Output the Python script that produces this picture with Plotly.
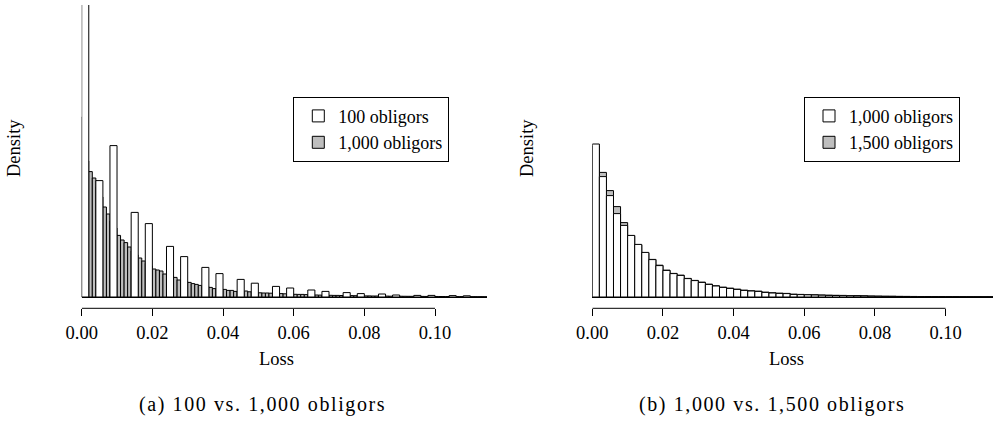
import plotly.graph_objects as go

W, H = 993, 421

# ---------------- data (densities) ----------------
# Panel (a): 1,000 obligors, bin width 0.001, bins start at 0.000
dens_a_1000 = [
    90, 68, 62.7, 59.5, 55, 50, 45, 41.5, 38, 34.5,
    30.8, 28.5, 27.2, 25, 23, 21, 19.5, 18, 16.8, 15.5,
    14, 13.5, 13, 11.5, 11, 10.3, 9.8, 8.5, 8.1, 7.7,
    7.3, 6.7, 6.3, 5.8, 5.5, 5.2, 4.8, 4.2, 4.1, 3.9,
    3.8, 3.3, 3.3, 2.8, 2.8, 2.7, 3.0, 2.6, 2.4, 2.3,
    2.1, 2.0, 2.0, 1.9, 1.8, 1.7, 1.7, 1.6, 1.5, 1.4,
    1.35, 1.3, 1.3, 1.2, 1.1, 1.05, 1.0, 0.95, 0.9, 0.9,
    0.85, 0.8, 0.8, 0.75, 0.7, 0.7, 0.7, 0.65, 0.6, 0.6,
    0.55, 0.55, 0.5, 0.5, 0.45, 0.45, 0.45, 0.4, 0.4, 0.4,
    0.38, 0.36, 0.35, 0.33, 0.3, 0.3, 0.3, 0.28, 0.27, 0.27,
    0.26, 0.25, 0.24, 0.23, 0.22, 0.22, 0.2, 0.2, 0.18, 0.18,
    0.17, 0.16, 0.15, 0.15, 0.14,
]
bw_a_1000 = 0.001

# Panel (a): 100 obligors, bin width 0.002, only non-empty bins
loss_a_100 = [0.000, 0.004, 0.008, 0.014, 0.018, 0.024, 0.028, 0.034, 0.038, 0.044,
              0.048, 0.054, 0.058, 0.064, 0.068, 0.074, 0.078, 0.084, 0.088, 0.094,
              0.098, 0.104, 0.108]
dens_a_100 = [177, 58.2, 75.7, 42.3, 36.7, 25.3, 20.2, 14.8, 11.7, 8.8,
              6.9, 5.3, 4.5, 3.5, 2.8, 2.2, 1.7, 1.5, 1.0, 0.8,
              0.8, 0.7, 0.6]
bw_a_100 = 0.002

# Panel (b): bin width 0.002, bins start at 0.000
dens_b_1000 = [
    76.5, 60.2, 50.7, 41.7, 35.8, 30.8, 26.3, 22.3, 18.7, 15.7,
    13.3, 11.7, 10.8, 9.2, 8.2, 7.3, 6.3, 5.5, 4.8, 4.3,
    3.8, 3.3, 3.0, 2.8, 2.3, 2.0, 1.8, 1.7, 1.3, 1.2,
    1.1, 1.0, 0.9, 0.8, 0.75, 0.7, 0.6, 0.55, 0.5, 0.4,
    0.35, 0.3, 0.3, 0.25, 0.25, 0.2, 0.2, 0.18, 0.16, 0.15,
    0.14, 0.13, 0.12, 0.11, 0.1, 0.1, 0.09,
]
dens_b_1500 = [
    75.5, 62.3, 53.2, 45.2, 37.2, 30.6, 26.0, 22.0, 18.8, 15.9,
    13.4, 11.8, 10.9, 9.3, 8.3, 7.4, 6.4, 5.6, 4.9, 4.4,
    3.9, 3.4, 3.1, 2.9, 2.4, 2.1, 1.9, 1.8, 1.4, 1.3,
    1.2, 1.1, 1.0, 0.9, 0.85, 0.8, 0.7, 0.65, 0.6, 0.5,
    0.45, 0.4, 0.38, 0.33, 0.3, 0.27, 0.25, 0.22, 0.2, 0.19,
    0.17, 0.16, 0.15, 0.14, 0.13, 0.12, 0.11,
]
bw_b = 0.002

tick_vals = [0.00, 0.02, 0.04, 0.06, 0.08, 0.10]
tick_text = ["0.00", "0.02", "0.04", "0.06", "0.08", "0.10"]

names_a = ["100 obligors", "1,000 obligors"]
names_b = ["1,000 obligors", "1,500 obligors"]
captions = ["(a) 100 vs.\u00a01,000 obligors", "(b) 1,000 vs.\u00a01,500 obligors"]

loss_a_1000 = [round(i * bw_a_1000, 4) for i in range(len(dens_a_1000))]
loss_b = [round(i * bw_b, 4) for i in range(len(dens_b_1000))]

# ---------------- figure ----------------
GRAY = "#bebebe"
FONT = "Liberation Serif"

def px_x(p):
    return p / W

def px_y(p):
    return 1 - p / H

fig = go.Figure()

line = dict(color="black", width=1)

# panel a: gray drawn first, white on top
fig.add_trace(go.Bar(x=loss_a_1000, y=dens_a_1000, width=bw_a_1000, offset=0,
                     marker=dict(color=GRAY, line=line), name=names_a[1],
                     legend="legend", legendrank=2, xaxis="x", yaxis="y"))
fig.add_trace(go.Bar(x=loss_a_100, y=dens_a_100, width=bw_a_100, offset=0,
                     marker=dict(color="white", line=line), name=names_a[0],
                     legend="legend", legendrank=1, xaxis="x", yaxis="y"))
# panel b
fig.add_trace(go.Bar(x=loss_b, y=dens_b_1500, width=bw_b, offset=0,
                     marker=dict(color=GRAY, line=line), name=names_b[1],
                     legend="legend2", legendrank=2, xaxis="x2", yaxis="y2"))
fig.add_trace(go.Bar(x=loss_b, y=dens_b_1000, width=bw_b, offset=0,
                     marker=dict(color="white", line=line), name=names_b[0],
                     legend="legend2", legendrank=1, xaxis="x2", yaxis="y2"))

x0_a, x0_b = 81.7, 592.3      # pixel of loss 0
ppu = 3533.0                  # pixels per unit loss
right_a, right_b = 487.0, 993.0
y_top, y_axis, y_base = 5.0, 308.3, 297.0
ppd = 2.0                     # pixels per density unit

ybot = -(y_axis - y_base) / ppd
ytop = ybot + (y_axis - y_top) / ppd

xa_common = dict(
    showgrid=False, zeroline=False, showline=False, automargin=False,
    ticks="outside", ticklen=7, tickwidth=1, tickcolor="black",
    tickvals=tick_vals, ticktext=tick_text,
    tickfont=dict(family=FONT, size=18.5, color="black"),
)
ya_common = dict(
    showgrid=False, showline=False, ticks="", showticklabels=False, automargin=False,
    zeroline=True, zerolinecolor="black", zerolinewidth=1,
    range=[ybot, ytop], domain=[px_y(y_axis), px_y(y_top)], fixedrange=True,
)

leg_common = dict(
    xanchor="left", yanchor="top",
    bordercolor="black", borderwidth=1, bgcolor="white",
    font=dict(family=FONT, size=18, color="black"),
    entrywidth=124, indentation=4, traceorder="normal",
)

fig.update_layout(
    template="none",
    width=W, height=H,
    margin=dict(l=0, r=0, t=0, b=0, pad=0, autoexpand=False),
    paper_bgcolor="white", plot_bgcolor="white",
    barmode="overlay",
    font=dict(family=FONT, color="black"),
    xaxis=dict(domain=[px_x(x0_a), px_x(right_a)],
               range=[0, (right_a - x0_a) / ppu], anchor="y", **xa_common),
    yaxis=dict(anchor="x", **ya_common),
    xaxis2=dict(domain=[px_x(x0_b), px_x(right_b)],
                range=[0, (right_b - x0_b) / ppu], anchor="y2", **xa_common),
    yaxis2=dict(anchor="x2", **ya_common),
    legend=dict(x=px_x(293.3), y=px_y(96.7), **leg_common),
    legend2=dict(x=px_x(804), y=px_y(96.7), **leg_common),
    showlegend=True,
)

# R-style axis line spanning only the labelled ticks
for xr, yr in [("x", "y domain"), ("x2", "y2 domain")]:
    fig.add_shape(type="line", xref=xr, yref=yr,
                  x0=tick_vals[0], x1=tick_vals[-1], y0=0, y1=0,
                  line=dict(color="black", width=1))

ann_font = dict(family=FONT, size=18.5, color="black")
for xc in [14, 527]:
    fig.add_annotation(x=px_x(xc), y=px_y(148), xref="paper", yref="paper",
                       text="Density", textangle=-90, showarrow=False,
                       font=ann_font, xanchor="center", yanchor="middle")
for xc in [276, 786.3]:
    fig.add_annotation(x=px_x(xc), y=px_y(359), xref="paper", yref="paper",
                       text="Loss", showarrow=False, font=ann_font,
                       xanchor="center", yanchor="middle")
for xc, cap in zip([262, 772], captions):
    fig.add_annotation(x=px_x(xc), y=px_y(404), xref="paper", yref="paper",
                       text='<span style="letter-spacing:1.6px">' + cap + "</span>",
                       showarrow=False,
                       font=dict(family=FONT, size=20, color="black"),
                       xanchor="center", yanchor="middle")

fig.write_html("out.html")
